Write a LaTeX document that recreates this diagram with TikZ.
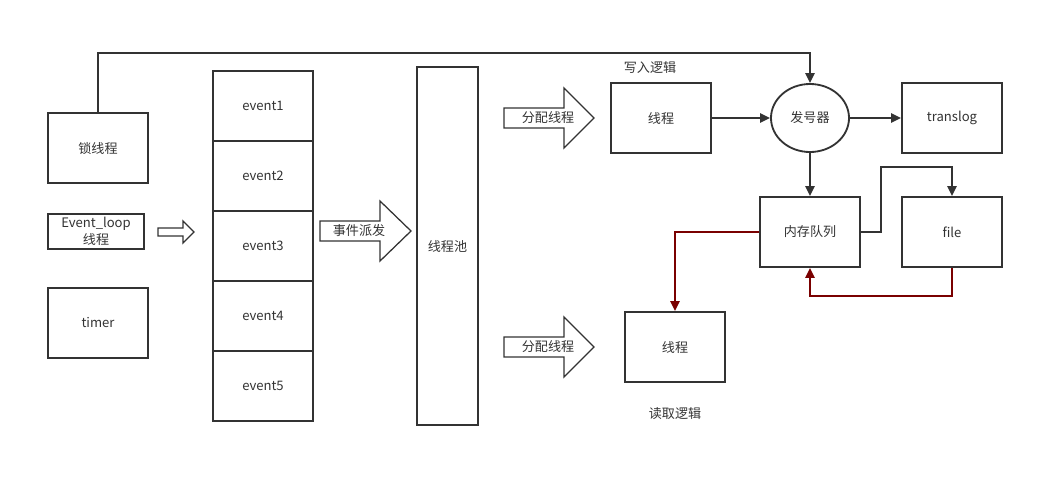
\documentclass[tikz,border=0pt]{standalone}
\usepackage{fontspec}
\setmainfont{Noto Sans CJK SC}
\usepackage{xcolor}
\usetikzlibrary{shapes,arrows.meta,positioning,calc}

\definecolor{linegray}{HTML}{333333}
\definecolor{darkred}{HTML}{7A0000}

\tikzset{
    box/.style={draw=linegray, line width=1.3pt, minimum width=2.5cm, minimum height=1.75cm, inner sep=0pt},
    blockarrow/.style={draw=linegray, line width=0.9pt, fill=white},
    link/.style={draw=linegray, line width=1.3pt, -{Triangle[length=7pt,width=6.5pt]}},
    readlink/.style={draw=darkred, line width=1.3pt, -{Triangle[length=7pt,width=6.5pt]}},
    lbl/.style={text=linegray, font=\fontsize{9.3}{11}\selectfont}
}

\begin{document}
\begin{tikzpicture}[x=0.025cm, y=-0.025cm, every node/.style={lbl}]
    \useasboundingbox (0,0) rectangle (1064,496);

    % left column
    \node[box] (lock) at (98,148) {锁线程};
    \node[box, minimum width=2.4cm, minimum height=0.875cm, align=center] (loop) at (96,231.5) {Event\_loop\\[1.5pt]线程};
    \node[box] (timer) at (98,323) {timer};

    % small arrow
    \draw[blockarrow] (158,228) -- (183,228) -- (183,221) -- (194,232) -- (183,243) -- (183,236) -- (158,236) -- cycle;

    % event queue
    \foreach \i in {1,...,5}
        \node[box] (ev\i) at (263,{106+70*(\i-1)}) {event\i};

    % dispatch
    \draw[blockarrow] (320,221) -- (380,221) -- (380,201) -- (411,231) -- (380,261) -- (380,241) -- (320,241) -- cycle;
    \node (dispatch) at (359,231) {事件派发};

    % thread pool
    \node[box, minimum width=1.525cm, minimum height=8.95cm] (pool) at (447.5,246) {线程池};

    % assign threads
    \draw[blockarrow] (504,108) -- (564,108) -- (564,88) -- (594,118) -- (564,148) -- (564,128) -- (504,128) -- cycle;
    \node (assign1) at (548,118) {分配线程};
    \draw[blockarrow] (504,337) -- (564,337) -- (564,317) -- (594,347) -- (564,377) -- (564,357) -- (504,357) -- cycle;
    \node (assign2) at (548,347) {分配线程};

    % write side
    \node[box] (wthread) at (661,118) {线程};
    \node (wlabel) at (650,68) {写入逻辑};
    \node[draw=linegray, line width=1.3pt, ellipse, minimum width=1.95cm, minimum height=1.7cm, inner sep=0pt] (gen) at (810,118) {发号器};
    \node[box] (translog) at (952,118) {translog};
    \node[box] (memq) at (810,232) {内存队列};
    \node[box] (file) at (952,232) {file};

    % read side
    \node[box] (rthread) at (675,347) {线程};
    \node (rlabel) at (675,414) {读取逻辑};

    % connectors
    \draw[link] (lock.north) |- (98,53) -| (gen.north);
    \draw[link] (wthread) -- (gen);
    \draw[link] (gen) -- (translog);
    \draw[link] (gen.south) -- (memq.north);
    \draw[link] (memq.east) -- (881,232) |- (952,167) -- (file.north);
    \draw[readlink] (memq.west) -| (rthread.north);
    \draw[readlink] (file.south) |- (810,296) -- (memq.south);
\end{tikzpicture}
\end{document}
